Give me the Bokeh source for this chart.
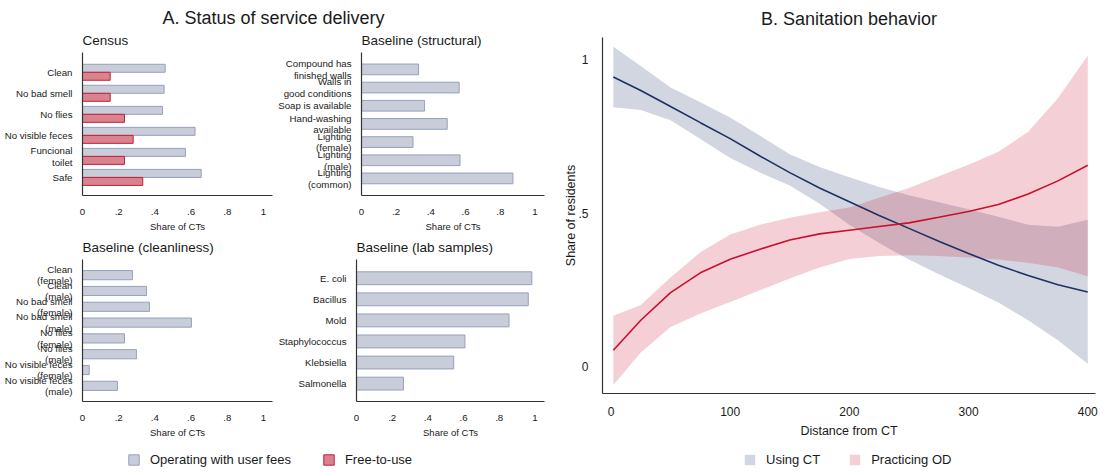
from bokeh.plotting import figure
from bokeh.models import Range1d, FixedTicker, Legend, LegendItem, Label, ColumnDataSource
from bokeh.layouts import row, column
from bokeh.embed import file_html
from bokeh.resources import INLINE

FONT = "Liberation Sans"

# ---------------- data ----------------
census_labels = ["Clean", "No bad smell", "No flies", "No visible feces", "Funcional\ntoilet", "Safe"]
census_fees = [0.457, 0.451, 0.442, 0.622, 0.569, 0.656]
census_free = [0.153, 0.153, 0.232, 0.280, 0.232, 0.333]

struct_labels = ["Compound has\nfinished walls", "Walls in\ngood conditions", "Soap is available",
                 "Hand-washing\navailable", "Lighting\n(female)", "Lighting\n(male)", "Lighting\n(common)"]
struct_vals = [0.329, 0.563, 0.363, 0.494, 0.297, 0.568, 0.873]

clean_labels = ["Clean\n(female)", "Clean\n(male)", "No bad smell\n(female)", "No bad smell\n(male)",
                "No flies\n(female)", "No flies\n(male)", "No visible feces\n(female)", "No visible feces\n(male)"]
clean_vals = [0.276, 0.354, 0.370, 0.602, 0.232, 0.298, 0.037, 0.193]

lab_labels = ["E. coli", "Bacillus", "Mold", "Staphylococcus", "Klebsiella", "Salmonella"]
lab_vals = [0.983, 0.963, 0.855, 0.608, 0.545, 0.263]

share_ticks = [0, 0.2, 0.4, 0.6, 0.8, 1]
share_tick_labels = ["0", ".2", ".4", ".6", ".8", "1"]

dist = [2, 25, 50, 75, 100, 125, 150, 175, 200, 225, 250, 275, 300, 325, 350, 375, 400]
ct_mean = [0.944, 0.900, 0.848, 0.795, 0.743, 0.686, 0.632, 0.582, 0.537, 0.492, 0.450, 0.408, 0.368, 0.330, 0.296, 0.266, 0.242]
ct_hi = [1.043, 0.980, 0.910, 0.862, 0.812, 0.752, 0.692, 0.650, 0.617, 0.585, 0.558, 0.535, 0.512, 0.488, 0.462, 0.455, 0.478]
ct_lo = [0.845, 0.836, 0.803, 0.742, 0.680, 0.632, 0.590, 0.530, 0.462, 0.402, 0.348, 0.300, 0.255, 0.208, 0.150, 0.085, 0.008]
od_mean = [0.052, 0.150, 0.240, 0.305, 0.349, 0.382, 0.412, 0.432, 0.444, 0.456, 0.468, 0.486, 0.505, 0.528, 0.562, 0.605, 0.656]
od_hi = [0.165, 0.200, 0.290, 0.372, 0.430, 0.462, 0.485, 0.503, 0.518, 0.550, 0.582, 0.620, 0.658, 0.700, 0.765, 0.875, 1.014]
od_lo = [-0.061, 0.045, 0.128, 0.172, 0.210, 0.248, 0.286, 0.322, 0.350, 0.360, 0.362, 0.360, 0.355, 0.348, 0.338, 0.322, 0.294]

dist_ticks = [0, 100, 200, 300, 400]
resid_ticks = [0, 0.5, 1]
resid_tick_labels = ["0", ".5", "1"]

# ---------------- styles ----------------
GRAY_FILL = "#c8cdd9"
GRAY_LINE = "#96a0bb"
RED_FILL = "#d9838f"
RED_LINE = "#c41c3a"
NAVY = "#1c3264"
CRIMSON = "#c8102e"
AXIS_COL = "#333333"
TEXT_COL = "#1a1a1a"


def style_axes(p, lab_size, axis_size):
    p.outline_line_color = None
    p.xgrid.visible = False
    p.ygrid.visible = False
    for ax in p.axis:
        ax.axis_line_color = AXIS_COL
        ax.axis_line_width = 1.2
        ax.major_tick_line_color = None
        ax.minor_tick_line_color = None
        ax.major_label_text_font = FONT
        ax.major_label_text_font_size = lab_size
        ax.major_label_text_color = TEXT_COL
        ax.axis_label_text_font = FONT
        ax.axis_label_text_font_size = axis_size
        ax.axis_label_text_font_style = "normal"
        ax.axis_label_text_color = TEXT_COL


def style_title(p, size, align, standoff):
    p.title.text_font = FONT
    p.title.text_font_size = size
    p.title.text_font_style = "normal"
    p.title.text_color = TEXT_COL
    p.title.align = align
    p.title.vertical_align = "top"
    p.title.standoff = standoff


def bar_panel(title, labels, width, height, bl, br, bt, bb, xmax, pad_top, pad_bot):
    n = len(labels)
    p = figure(width=width, height=height, x_range=Range1d(0, xmax),
               y_range=Range1d(n - 1 + pad_bot, -pad_top),
               output_backend="svg", toolbar_location=None, title=title,
               min_border_left=bl, min_border_right=br, min_border_top=bt, min_border_bottom=bb)
    style_title(p, "13.5px", "left", 5)
    style_axes(p, "9.7px", "9.5px")
    xa = p.xaxis[0]
    xa.ticker = FixedTicker(ticks=share_ticks)
    xa.major_label_overrides = dict(zip(share_ticks, share_tick_labels))
    xa.axis_label = "Share of CTs"
    xa.major_label_standoff = 7
    xa.axis_label_standoff = 3
    ya = p.yaxis[0]
    ya.ticker = FixedTicker(ticks=list(range(n)))
    ya.major_label_overrides = {i: lab for i, lab in enumerate(labels)}
    ya.major_label_standoff = 4
    ya.major_label_text_line_height = 1.05
    return p


# Census  (page x 0-275, y 28-234)
census = bar_panel("Census", census_labels, 275, 206, 82, 3, 24, 32, 1.05, 0.94, 0.86)
idx = list(range(len(census_labels)))
census.hbar(y=[i - 0.19 for i in idx], left=0, right=census_fees, height=0.38,
            fill_color=GRAY_FILL, line_color=GRAY_LINE, line_width=1)
census.hbar(y=[i + 0.19 for i in idx], left=0, right=census_free, height=0.38,
            fill_color=RED_FILL, line_color=RED_LINE, line_width=1)

# Structural (page x 275-560)
struct = bar_panel("Baseline (structural)", struct_labels, 285, 206, 84, 16, 24, 32, 1.055, 0.93, 0.94)
struct.hbar(y=list(range(len(struct_labels))), left=0, right=struct_vals, height=0.59,
            fill_color=GRAY_FILL, line_color=GRAY_LINE, line_width=1)

# Cleanliness (page y 234-440)
clean = bar_panel("Baseline (cleanliness)", clean_labels, 275, 206, 82, 3, 25, 32, 1.05, 0.99, 0.99)
clean.hbar(y=list(range(len(clean_labels))), left=0, right=clean_vals, height=0.58,
           fill_color=GRAY_FILL, line_color=GRAY_LINE, line_width=1)

# Lab samples
lab = bar_panel("Baseline (lab samples)", lab_labels, 285, 206, 78, 16, 25, 32, 1.054, 0.89, 0.85)
lab.hbar(y=list(range(len(lab_labels))), left=0, right=lab_vals, height=0.61,
         fill_color=GRAY_FILL, line_color=GRAY_LINE, line_width=1)

# Header for panel A (page y 0-28)
header = figure(width=560, height=28, x_range=Range1d(0, 1), y_range=Range1d(0, 1),
                output_backend="svg", toolbar_location=None, min_border=0)
header.axis.visible = False
header.grid.visible = False
header.outline_line_color = None
header.add_layout(Label(x=273, y=11, x_units="screen", y_units="screen",
                        text="A. Status of service delivery", text_align="center",
                        text_baseline="middle", text_font=FONT, text_font_size="18px",
                        text_color=TEXT_COL))

# Panel B (page x 560-1104, y 0-440)
pb = figure(width=544, height=440, x_range=Range1d(-7.1, 406.5), y_range=Range1d(-0.089, 1.073),
            output_backend="svg", toolbar_location=None, title="B. Sanitation behavior",
            min_border_left=42, min_border_right=9, min_border_top=37, min_border_bottom=43)
style_title(pb, "18px", "center", 13)
style_axes(pb, "12px", "12.5px")
pb.xaxis[0].ticker = FixedTicker(ticks=dist_ticks)
pb.xaxis[0].axis_label = "Distance from CT"
pb.xaxis[0].major_label_standoff = 7
pb.xaxis[0].axis_label_standoff = 5
pb.yaxis[0].ticker = FixedTicker(ticks=resid_ticks)
pb.yaxis[0].major_label_overrides = dict(zip(resid_ticks, resid_tick_labels))
pb.yaxis[0].axis_label = "Share of residents"
pb.yaxis[0].major_label_standoff = 8
pb.yaxis[0].axis_label_standoff = -3

src = ColumnDataSource(dict(x=dist, ct_m=ct_mean, ct_h=ct_hi, ct_l=ct_lo,
                            od_m=od_mean, od_h=od_hi, od_l=od_lo))
pb.varea(x="x", y1="ct_l", y2="ct_h", source=src, fill_color=NAVY, fill_alpha=0.2)
pb.varea(x="x", y1="od_l", y2="od_h", source=src, fill_color=CRIMSON, fill_alpha=0.2)
pb.line(x="x", y="ct_m", source=src, line_color=NAVY, line_width=1.6)
pb.line(x="x", y="od_m", source=src, line_color=CRIMSON, line_width=1.6)

# Legend strip (page y 440-473)
strip = figure(width=1104, height=33, x_range=Range1d(0, 1), y_range=Range1d(0, 1),
               output_backend="svg", toolbar_location=None, min_border=0)
strip.axis.visible = False
strip.grid.visible = False
strip.outline_line_color = None
r1 = strip.hbar(y=[-10], left=[0], right=[0.1], height=1, fill_color=GRAY_FILL, line_color=GRAY_LINE)
r2 = strip.hbar(y=[-10], left=[0], right=[0.1], height=1, fill_color=RED_FILL, line_color=RED_LINE)
r3 = strip.varea(x=[-10, -9], y1=[0, 0], y2=[1, 1], fill_color=NAVY, fill_alpha=0.2)
r4 = strip.varea(x=[-10, -9], y1=[0, 0], y2=[1, 1], fill_color=CRIMSON, fill_alpha=0.2)


def make_legend(items, loc, spacing):
    return Legend(items=items, location=loc, orientation="horizontal",
                  padding=0, margin=0, spacing=spacing, glyph_width=13, glyph_height=13,
                  label_standoff=10, label_height=13, label_text_font=FONT,
                  label_text_font_size="13px", label_text_color=TEXT_COL,
                  border_line_color=None, background_fill_alpha=0)


strip.add_layout(make_legend([LegendItem(label="Operating with user fees", renderers=[r1]),
                              LegendItem(label="Free-to-use", renderers=[r2])], (127, 6), 31))
strip.add_layout(make_legend([LegendItem(label="Using CT", renderers=[r3]),
                              LegendItem(label="Practicing OD", renderers=[r4])], (743, 6), 28))

left = column(header, row(census, struct), row(clean, lab))
layout = column(row(left, pb), strip)

open("out.html", "w").write(file_html(layout, INLINE))
